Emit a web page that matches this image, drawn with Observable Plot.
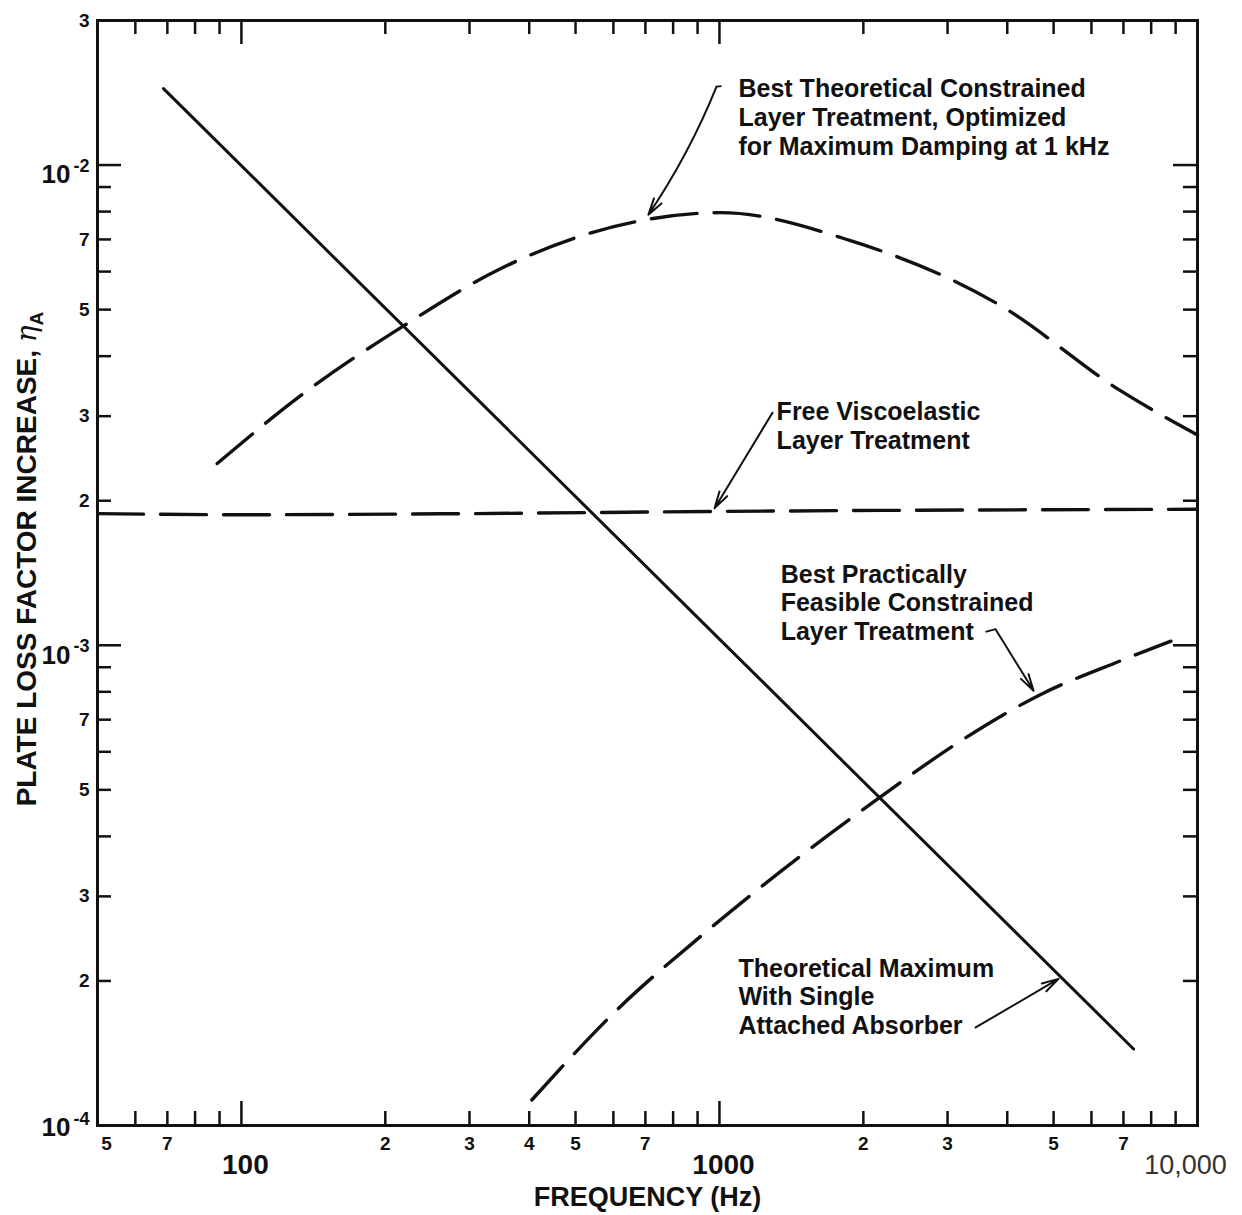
<!DOCTYPE html>
<html><head><meta charset="utf-8">
<script src="https://cdn.jsdelivr.net/npm/d3@7"></script>
<script src="https://cdn.jsdelivr.net/npm/@observablehq/plot@0.6"></script>
<style>body{margin:0;background:#fff}</style>
</head><body><div id="chart"></div>
<script>
// ---- data ----
const freqSolid = [68.7, 1000, 7350];
const etaSolid = [1.443e-2, 1.03e-3, 1.443e-4];

const freqTheo = [89, 133, 218, 349, 685, 1005, 1880, 3870, 6900, 10000];
const etaTheo = [2.39e-3, 3.31e-3, 4.62e-3, 6.09e-3, 7.66e-3, 7.96e-3, 6.96e-3, 5.10e-3, 3.39e-3, 2.74e-3];

const freqFree = [50, 100, 300, 1000, 10000];
const etaFree = [1.88e-3, 1.87e-3, 1.88e-3, 1.90e-3, 1.92e-3];

const freqPract = [405, 621, 915, 1478, 2150, 3195, 4700, 6900, 8800];
const etaPract = [1.13e-4, 1.77e-4, 2.48e-4, 3.64e-4, 4.8e-4, 6.32e-4, 7.9e-4, 9.28e-4, 1.02e-3];

const xMinorTicks = [60, 70, 80, 90, 200, 300, 400, 500, 600, 700, 800, 900, 2000, 3000, 4000, 5000, 6000, 7000, 8000, 9000];
const xMajorTicks = [100, 1000];
const xDigitVals = [70, 200, 300, 400, 500, 700, 2000, 3000, 5000, 7000];
const xDigitText = ["7", "2", "3", "4", "5", "7", "2", "3", "5", "7"];
const xCornerVal = [50];
const xCornerText = ["5"];
const xDecadeVals = [100, 1000];
const xDecadeText = ["100", "1000"];
const xEndVal = [10000];
const xEndText = ["10,000"];

const yMinorTicks = [2e-4, 3e-4, 4e-4, 5e-4, 6e-4, 7e-4, 8e-4, 9e-4, 2e-3, 3e-3, 4e-3, 5e-3, 6e-3, 7e-3, 8e-3, 9e-3];
const yMajorTicks = [1e-3, 1e-2];
const yDigitVals = [2e-2, 7e-3, 5e-3, 3e-3, 2e-3, 7e-4, 5e-4, 3e-4, 2e-4];
const yDigitText = ["3", "7", "5", "3", "2", "7", "5", "3", "2"];
const yDecadeVals = [1e-2, 1e-3];
const yDecadeExp = ["-2", "-3"];
const yBottomVal = [1e-4];
const yBottomExp = ["-4"];

const noteText = [
  "Best Theoretical Constrained\nLayer Treatment, Optimized\nfor Maximum Damping at 1 kHz",
  "Free Viscoelastic\nLayer Treatment",
  "Best Practically\nFeasible Constrained\nLayer Treatment",
  "Theoretical Maximum\nWith Single\nAttached Absorber"
];
const noteFreq = [1096, 1317, 1343, 1096];
const noteEta = [1.26e-2, 2.87e-3, 1.23e-3, 1.86e-4];

// leader arrows: [start, end] in data units
const arrowFreq1 = [986, 1291, 3780, 3435];
const arrowEta1 = [1.457e-2, 3.05e-3, 1.08e-3, 1.60e-4];
const arrowFreq2 = [710, 977, 4540, 5120];
const arrowEta2 = [7.88e-3, 1.93e-3, 8.04e-4, 2.02e-4];
// small hooks at the start of two leaders
const hookFreq1 = [1010, 3603];
const hookEta1 = [1.46e-2, 1.066e-3];
const hookFreq2 = [986, 3780];
const hookEta2 = [1.457e-2, 1.08e-3];

const xTitle = "FREQUENCY (Hz)";
const yTitle = "PLATE LOSS FACTOR INCREASE, ";

// ---- layout ----
const W = 1242, H = 1215;
const mL = 97, mR = 45, mT = 20, mB = 90;
const innerW = W - mL - mR, innerH = H - mT - mB;
const minorLen = 14, majorLen = 24;

const zip = (xs, ys) => xs.map((x, i) => ({x, y: ys[i]}));
const solid = zip(freqSolid, etaSolid);
const theo = zip(freqTheo, etaTheo);
const free = zip(freqFree, etaFree);
const pract = zip(freqPract, etaPract);
const notes = noteText.map((t, i) => ({t, x: noteFreq[i], y: noteEta[i]}));
const arrows = arrowFreq1.map((x1, i) => ({x1, y1: arrowEta1[i], x2: arrowFreq2[i], y2: arrowEta2[i]}));
const hooks = hookFreq1.map((x1, i) => ({x1, y1: hookEta1[i], x2: hookFreq2[i], y2: hookEta2[i]}));

const font = "'Liberation Sans', Arial, Helvetica, sans-serif";
const dash = "46,17";
const ink = "#111";
const lbl = (extra) => Object.assign({fontWeight: "bold", fill: ink, lineAnchor: "middle"}, extra);

const chart = Plot.plot({
  width: W, height: H,
  marginLeft: mL, marginRight: mR, marginTop: mT, marginBottom: mB,
  x: {type: "log", domain: [50, 10000], axis: null},
  y: {type: "log", domain: [1e-4, 2e-2], axis: null},
  style: {fontFamily: font, background: "white", overflow: "visible", color: ink},
  marks: [
    // ticks (inward)
    Plot.ruleX(xMinorTicks, {x: d => d, insetTop: innerH - minorLen, strokeWidth: 2.5, stroke: ink}),
    Plot.ruleX(xMajorTicks, {x: d => d, insetTop: innerH - majorLen, strokeWidth: 2.5, stroke: ink}),
    Plot.ruleX(xMinorTicks, {x: d => d, insetBottom: innerH - minorLen, strokeWidth: 2.5, stroke: ink}),
    Plot.ruleX(xMajorTicks, {x: d => d, insetBottom: innerH - majorLen, strokeWidth: 2.5, stroke: ink}),
    Plot.ruleY(yMinorTicks, {y: d => d, insetRight: innerW - minorLen, strokeWidth: 2.5, stroke: ink}),
    Plot.ruleY(yMajorTicks, {y: d => d, insetRight: innerW - majorLen, strokeWidth: 2.5, stroke: ink}),
    Plot.ruleY(yMinorTicks, {y: d => d, insetLeft: innerW - minorLen, strokeWidth: 2.5, stroke: ink}),
    Plot.ruleY(yMajorTicks, {y: d => d, insetLeft: innerW - majorLen, strokeWidth: 2.5, stroke: ink}),
    Plot.frame({stroke: ink, strokeWidth: 3}),

    // curves
    Plot.line(solid, {x: "x", y: "y", stroke: ink, strokeWidth: 3}),
    Plot.line(theo, {x: "x", y: "y", curve: "monotone-x", stroke: ink, strokeWidth: 3.4, strokeDasharray: dash}),
    Plot.line(free, {x: "x", y: "y", curve: "monotone-x", stroke: ink, strokeWidth: 3.4, strokeDasharray: dash}),
    Plot.line(pract, {x: "x", y: "y", curve: "monotone-x", stroke: ink, strokeWidth: 3.4, strokeDasharray: dash}),

    // annotations
    Plot.text(notes, {x: "x", y: "y", text: "t", textAnchor: "start", lineAnchor: "middle", lineHeight: 1.15,
      fontSize: 25, fontWeight: "bold", fill: ink}),
    Plot.link(hooks, {x1: "x1", y1: "y1", x2: "x2", y2: "y2", stroke: ink, strokeWidth: 1.8}),
    Plot.arrow(arrows.slice(0, 1), {x1: "x1", y1: "y1", x2: "x2", y2: "y2", bend: 6, stroke: ink, strokeWidth: 2,
      headLength: 13, headAngle: 30}),
    Plot.arrow(arrows.slice(1), {x1: "x1", y1: "y1", x2: "x2", y2: "y2", stroke: ink, strokeWidth: 2,
      headLength: 13, headAngle: 30}),

    // x tick labels
    Plot.text(xDigitVals, lbl({x: d => d, text: (d, i) => xDigitText[i], frameAnchor: "bottom", dy: 18, fontSize: 19})),
    Plot.text(xCornerVal, lbl({x: d => d, text: (d, i) => xCornerText[i], frameAnchor: "bottom", dy: 18, dx: 9, fontSize: 19})),
    Plot.text(xDecadeVals, lbl({x: d => d, text: (d, i) => xDecadeText[i], frameAnchor: "bottom", dy: 40, dx: 4, fontSize: 28})),
    Plot.text(xEndVal, {x: d => d, text: (d, i) => xEndText[i], frameAnchor: "bottom", lineAnchor: "middle", dy: 40, dx: -12,
      fontSize: 27, fontWeight: "normal", fill: "#333"}),
    Plot.text([xTitle], lbl({frameAnchor: "bottom", dy: 72, text: d => d, fontSize: 27, textAnchor: "middle"})),

    // y tick labels
    Plot.text(yDigitVals, lbl({y: d => d, text: (d, i) => yDigitText[i], frameAnchor: "left", dx: -8, textAnchor: "end", fontSize: 19})),
    Plot.text(yDecadeVals, lbl({y: d => d, text: () => "10", frameAnchor: "left", dx: -27, dy: 10, textAnchor: "end", fontSize: 26})),
    Plot.text(yDecadeVals, lbl({y: d => d, text: (d, i) => yDecadeExp[i], frameAnchor: "left", dx: -8, dy: 1, textAnchor: "end", fontSize: 18})),
    Plot.text(yBottomVal, lbl({y: d => d, text: () => "10", frameAnchor: "left", dx: -27, dy: 2, textAnchor: "end", fontSize: 26})),
    Plot.text(yBottomVal, lbl({y: d => d, text: (d, i) => yBottomExp[i], frameAnchor: "left", dx: -8, dy: -6, textAnchor: "end", fontSize: 18})),
    Plot.text([yTitle], lbl({frameAnchor: "left", textAnchor: "middle", dx: -70, dy: -14, rotate: -90, text: d => d, fontSize: 28}))
  ]
});

// italic eta with subscript A on the y-axis title
d3.select(chart).selectAll("text").filter(function() { return this.textContent === yTitle; })
  .each(function() {
    const t = d3.select(this);
    t.append("tspan").attr("font-style", "italic").attr("font-weight", "normal").attr("font-family", "'DejaVu Serif', serif").text("η");
    t.append("tspan").attr("font-size", 19).attr("dy", "0.35em").text("A");
  });

document.getElementById("chart").append(chart);
</script>
</body></html>
